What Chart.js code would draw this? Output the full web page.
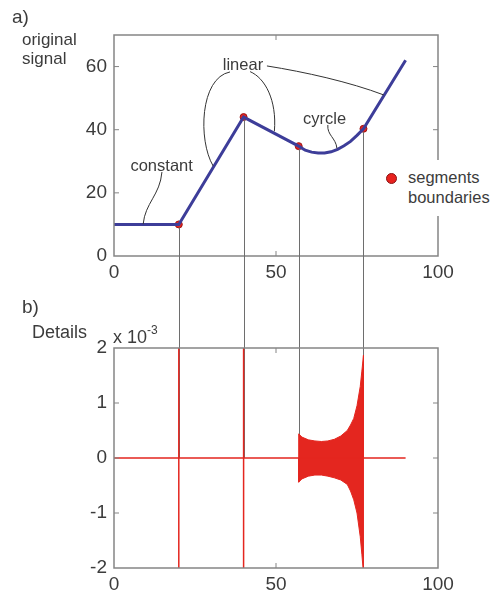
<!DOCTYPE html>
<html>
<head>
<meta charset="utf-8">
<script src="https://cdn.jsdelivr.net/npm/chart.js@4.4.1/dist/chart.umd.min.js"></script>
<style>
  html, body { margin: 0; padding: 0; background: #fff; }
  #wrap { position: relative; width: 491px; height: 599px; overflow: hidden; font-family: "Liberation Sans", Arial, sans-serif; color: #3c3c3c; }
  canvas { position: absolute; left: 0; top: 0; }
  .lbl { position: absolute; white-space: nowrap; }
  #legend { position: absolute; left: 378px; top: 160px; width: 113px; height: 56px; background: #fff; }
  #legend .dot { position: absolute; left: 8px; top: 13px; width: 9px; height: 9px; border-radius: 50%; background: #e8221e; border: 1px solid #8a1414; }
  #legend .txt { position: absolute; left: 30px; top: 8px; font-size: 16.5px; line-height: 19.5px; }
</style>
</head>
<body>
<div id="wrap">
  <canvas id="signalChart" width="491" height="599"></canvas>
  <canvas id="detailChart" width="491" height="599"></canvas>
  <div class="lbl" style="left:12px;top:7px;font-size:19px;line-height:19px">a)</div>
  <div class="lbl" style="left:22px;top:30px;font-size:17px;line-height:19px">original<br>signal</div>
  <div class="lbl" style="left:22px;top:297px;font-size:19px;line-height:19px">b)</div>
  <div class="lbl" style="left:32px;top:323px;font-size:18px;line-height:18px">Details</div>
  <div class="lbl" style="left:113px;top:323px;font-size:18px;line-height:18px">x 10<sup style="font-size:12px;position:relative;top:-2px">-3</sup></div>
  <div id="legend"><span class="dot"></span><div class="txt">segments<br>boundaries</div></div>
</div>
<script>
// axis ticks
const xTicks = [0, 50, 100];
const signalTicks = [0, 20, 40, 60];
const detailTicks = [-2, -1, 0, 1, 2];

// a) original signal
const signalX = [0, 20, 40, 57, 59, 61, 63, 65, 67, 69, 71, 73, 75, 77, 90];
const signalY = [10, 10, 44, 34.8, 33.5, 32.9, 32.6, 32.6, 33, 33.8, 34.9, 36.3, 38.2, 40.3, 62];

// segment boundaries
const boundaryX = [20, 40, 57, 77];
const boundaryY = [10, 44, 34.8, 40.3];

// b) details (x 10^-3), spikes at the boundaries
const detailX = [0, 20, 20, 20, 20, 40, 40, 40, 40, 90];
const detailY = [0, 0, 2.6, -2.6, 0, 0, 2.6, -2.6, 0, 0];

// envelope of the oscillating part in the cycle segment
const burstX = [57, 57, 58, 60, 62, 64, 66, 68, 70, 72, 73, 74, 75, 76, 76.5, 77, 77];
const burstUpper = [0, 0.44, 0.38, 0.33, 0.31, 0.30, 0.31, 0.34, 0.4, 0.5, 0.6, 0.72, 0.95, 1.3, 1.58, 1.87, 0];
const burstLower = [0, -0.44, -0.38, -0.33, -0.31, -0.31, -0.33, -0.36, -0.4, -0.48, -0.6, -0.76, -1.0, -1.43, -1.75, -2.1, 0];

const pts = (xs, ys) => xs.map((x, i) => ({ x, y: ys[i] }));

const TEXT = '#3c3c3c';
const FONT = '"Liberation Sans", Arial, sans-serif';
const RED = '#e4261f';

// annotation labels and leader curves, in data units of the top chart
const notes = [
  { text: 'constant', at: [14.7, 28.5] },
  { text: 'linear', at: [39.8, 60.5] },
  { text: 'cyrcle', at: [65.0, 43.4] },
];
const leaders = [
  [[14.8, 26.6], [14.2, 19.3], [9.6, 16.8], [9.0, 10.1]],
  [[35.8, 58.3], [26.5, 56.4], [25.9, 36.7], [30.6, 28.5]],
  [[42.0, 58.4], [46.6, 56.4], [50.3, 49.4], [49.5, 39.5]],
  [[47.2, 60.2], [58.9, 58.3], [72.8, 55.1], [83.3, 51.0]],
  [[66.0, 41.5], [65.7, 38.3], [68.5, 37.4], [68.8, 34.1]],
];

// MATLAB-like box with inward ticks
const boxFrame = {
  id: 'boxFrame',
  afterDatasetsDraw(chart) {
    const { ctx, chartArea: a, scales } = chart;
    ctx.save();
    ctx.strokeStyle = '#858585';
    ctx.lineWidth = 1.5;
    ctx.strokeRect(a.left, a.top, a.right - a.left, a.bottom - a.top);
    ctx.lineWidth = 1;
    ctx.beginPath();
    scales.y.ticks.forEach(t => {
      const y = scales.y.getPixelForValue(t.value);
      if (y <= a.top + 1 || y >= a.bottom - 1) return;
      ctx.moveTo(a.left, y); ctx.lineTo(a.left + 5, y);
      ctx.moveTo(a.right, y); ctx.lineTo(a.right - 5, y);
    });
    scales.x.ticks.forEach(t => {
      const x = scales.x.getPixelForValue(t.value);
      if (x <= a.left + 1 || x >= a.right - 1) return;
      ctx.moveTo(x, a.bottom); ctx.lineTo(x, a.bottom - 5);
      ctx.moveTo(x, a.top); ctx.lineTo(x, a.top + 5);
    });
    ctx.stroke();
    ctx.restore();
  }
};

const annotations = {
  id: 'annotations',
  afterDatasetsDraw(chart) {
    const { ctx, scales: { x, y } } = chart;
    const p = v => [x.getPixelForValue(v[0]), y.getPixelForValue(v[1])];
    ctx.save();
    ctx.strokeStyle = '#333';
    ctx.lineWidth = 1;
    leaders.forEach(c => {
      const [s, c1, c2, e] = c.map(p);
      ctx.beginPath();
      ctx.moveTo(s[0], s[1]);
      ctx.bezierCurveTo(c1[0], c1[1], c2[0], c2[1], e[0], e[1]);
      ctx.stroke();
    });
    ctx.fillStyle = TEXT;
    ctx.font = '16.5px ' + FONT;
    ctx.textAlign = 'center';
    ctx.textBaseline = 'middle';
    notes.forEach(n => {
      const [px, py] = p(n.at);
      ctx.fillText(n.text, px, py);
    });
    ctx.restore();
  }
};

function scalesFor(yTicks, yMin, yMax) {
  return {
    x: {
      type: 'linear', min: 0, max: 100,
      afterBuildTicks: s => { s.ticks = xTicks.map(v => ({ value: v })); },
      afterFit: s => { s.height = 25; },
      grid: { display: false, drawTicks: false },
      border: { display: false },
      ticks: { color: TEXT, font: { family: FONT, size: 19 }, padding: 5, maxRotation: 0 },
    },
    y: {
      type: 'linear', min: yMin, max: yMax,
      afterBuildTicks: s => { s.ticks = yTicks.map(v => ({ value: v })); },
      afterFit: s => { s.width = 114; },
      grid: { display: false, drawTicks: false },
      border: { display: false },
      ticks: { color: TEXT, font: { family: FONT, size: 19 }, padding: 7 },
    },
  };
}

const signalChart = new Chart(document.getElementById('signalChart'), {
  type: 'scatter',
  data: {
    datasets: [
      {
        data: pts(signalX, signalY),
        showLine: true,
        borderColor: '#3d3d99',
        borderWidth: 3,
        pointRadius: 0,
      },
      {
        data: pts(boundaryX, boundaryY),
        pointRadius: 3.5,
        backgroundColor: '#e8221e',
        borderColor: '#9a1616',
        borderWidth: 1,
      },
    ],
  },
  options: {
    responsive: false,
    animation: false,
    devicePixelRatio: 1,
    layout: { padding: { left: 0, right: 53, top: 35, bottom: 318 } },
    plugins: { legend: { display: false }, tooltip: { enabled: false } },
    scales: scalesFor(signalTicks, 0, 70),
  },
  plugins: [boxFrame, annotations],
});

// gray lines from the boundaries in a) down into b)
const connectors = {
  id: 'connectors',
  beforeDatasetsDraw(chart) {
    const { ctx } = chart;
    const sx = signalChart.scales.x, sy = signalChart.scales.y;
    const y0 = chart.scales.y.getPixelForValue(0);
    ctx.save();
    ctx.strokeStyle = '#6e6e6e';
    ctx.lineWidth = 1;
    ctx.beginPath();
    boundaryX.forEach((bx, i) => {
      const x = Math.round(sx.getPixelForValue(bx)) + 0.5;
      ctx.moveTo(x, sy.getPixelForValue(boundaryY[i]) + 3);
      ctx.lineTo(x, y0);
    });
    ctx.stroke();
    ctx.restore();
  }
};

new Chart(document.getElementById('detailChart'), {
  type: 'scatter',
  data: {
    datasets: [
      {
        data: pts(detailX, detailY),
        showLine: true,
        borderColor: RED,
        borderWidth: 1.5,
        pointRadius: 0,
      },
      {
        data: pts(burstX, burstUpper),
        showLine: true,
        borderColor: RED,
        backgroundColor: RED,
        borderWidth: 1,
        pointRadius: 0,
        fill: 'origin',
      },
      {
        data: pts(burstX, burstLower),
        showLine: true,
        borderColor: RED,
        backgroundColor: RED,
        borderWidth: 1,
        pointRadius: 0,
        fill: 'origin',
      },
    ],
  },
  options: {
    responsive: false,
    animation: false,
    devicePixelRatio: 1,
    layout: { padding: { left: 0, right: 53, top: 348, bottom: 6 } },
    plugins: { legend: { display: false }, tooltip: { enabled: false } },
    scales: scalesFor(detailTicks, -2, 2),
  },
  plugins: [connectors, boxFrame],
});
</script>
</body>
</html>
